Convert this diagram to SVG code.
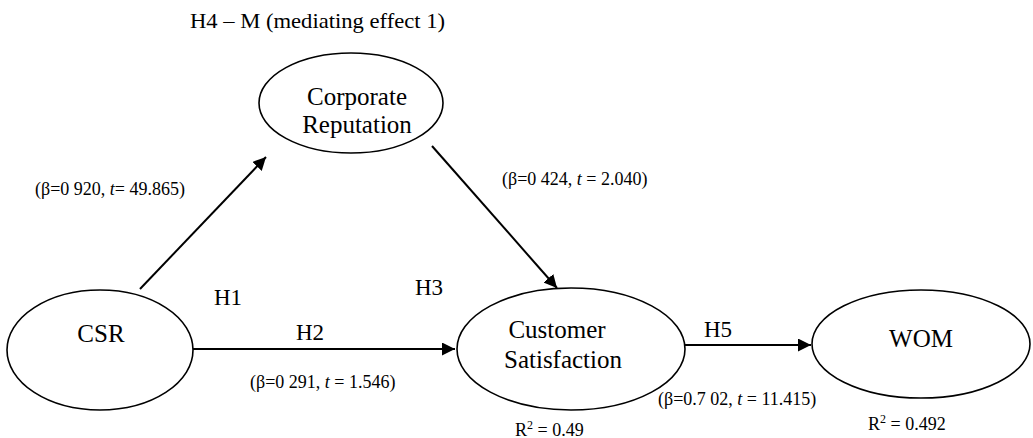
<svg xmlns="http://www.w3.org/2000/svg" width="1033" height="438" viewBox="0 0 1033 438">
<style>
.node{fill:#fff;stroke:#000;stroke-width:1.6}
text{font-family:'Liberation Serif','Times New Roman',serif;fill:#000}
.nl{font-size:25px;text-anchor:middle}
.h{font-size:23px}
.b{font-size:18px}
.edge{stroke:#000;stroke-width:2;fill:none;marker-end:url(#ah)}
</style>
<defs>
<marker id="ah" viewBox="0 0 10 10" refX="10" refY="5" markerWidth="6.5" markerHeight="6.5" orient="auto" markerUnits="strokeWidth">
<path d="M0,0 L10,5 L0,10 z" fill="#000"/>
</marker>
</defs>
<rect width="1033" height="438" fill="#fff"/>
<text x="190" y="28" font-size="21" textLength="255" lengthAdjust="spacingAndGlyphs">H4 – M (mediating effect 1)</text>
<g id="connectors">
<line class="edge" x1="140" y1="289" x2="266" y2="157"/>
<line class="edge" x1="432" y1="146" x2="557" y2="288"/>
<line class="edge" x1="193" y1="349" x2="455" y2="349"/>
<line class="edge" x1="685" y1="345" x2="811" y2="345"/>
</g>
<g id="node-corporate-reputation">
<ellipse class="node" cx="351" cy="103" rx="92" ry="50"/>
<text class="nl" x="357" y="105">Corporate</text>
<text class="nl" x="357" y="133">Reputation</text>
</g>
<g id="node-csr">
<ellipse class="node" cx="100" cy="350" rx="93" ry="60"/>
<text class="nl" x="101" y="342">CSR</text>
</g>
<g id="node-customer-satisfaction">
<ellipse class="node" cx="571" cy="349" rx="114" ry="61"/>
<text class="nl" x="557" y="338">Customer</text>
<text class="nl" x="563" y="368">Satisfaction</text>
</g>
<g id="node-wom">
<ellipse class="node" cx="921" cy="344" rx="109" ry="54"/>
<text class="nl" x="921" y="347">WOM</text>
</g>
<g id="labels">
<text class="h" x="214" y="305">H1</text>
<text class="h" x="296" y="340">H2</text>
<text class="h" x="415" y="295">H3</text>
<text class="h" x="704" y="337">H5</text>
<text class="b" x="35" y="195" font-size="18.5">(β=0 920, <tspan font-style="italic">t</tspan>= 49.865)</text>
<text class="b" x="502" y="185" font-size="18.2">(β=0 424, <tspan font-style="italic">t</tspan> = 2.040)</text>
<text class="b" x="250" y="388" font-size="18.5">(β=0 291, <tspan font-style="italic">t</tspan> = 1.546)</text>
<text class="b" x="658" y="405" font-size="17.2">(β=0.7 02, <tspan font-style="italic">t</tspan> = 11.415)</text>
<text class="b" x="515" y="436">R<tspan font-size="12" dy="-7">2</tspan><tspan dy="7"> = 0.49</tspan></text>
<text class="b" x="868" y="430">R<tspan font-size="12" dy="-7">2</tspan><tspan dy="7"> = 0.492</tspan></text>
</g>
</svg>
